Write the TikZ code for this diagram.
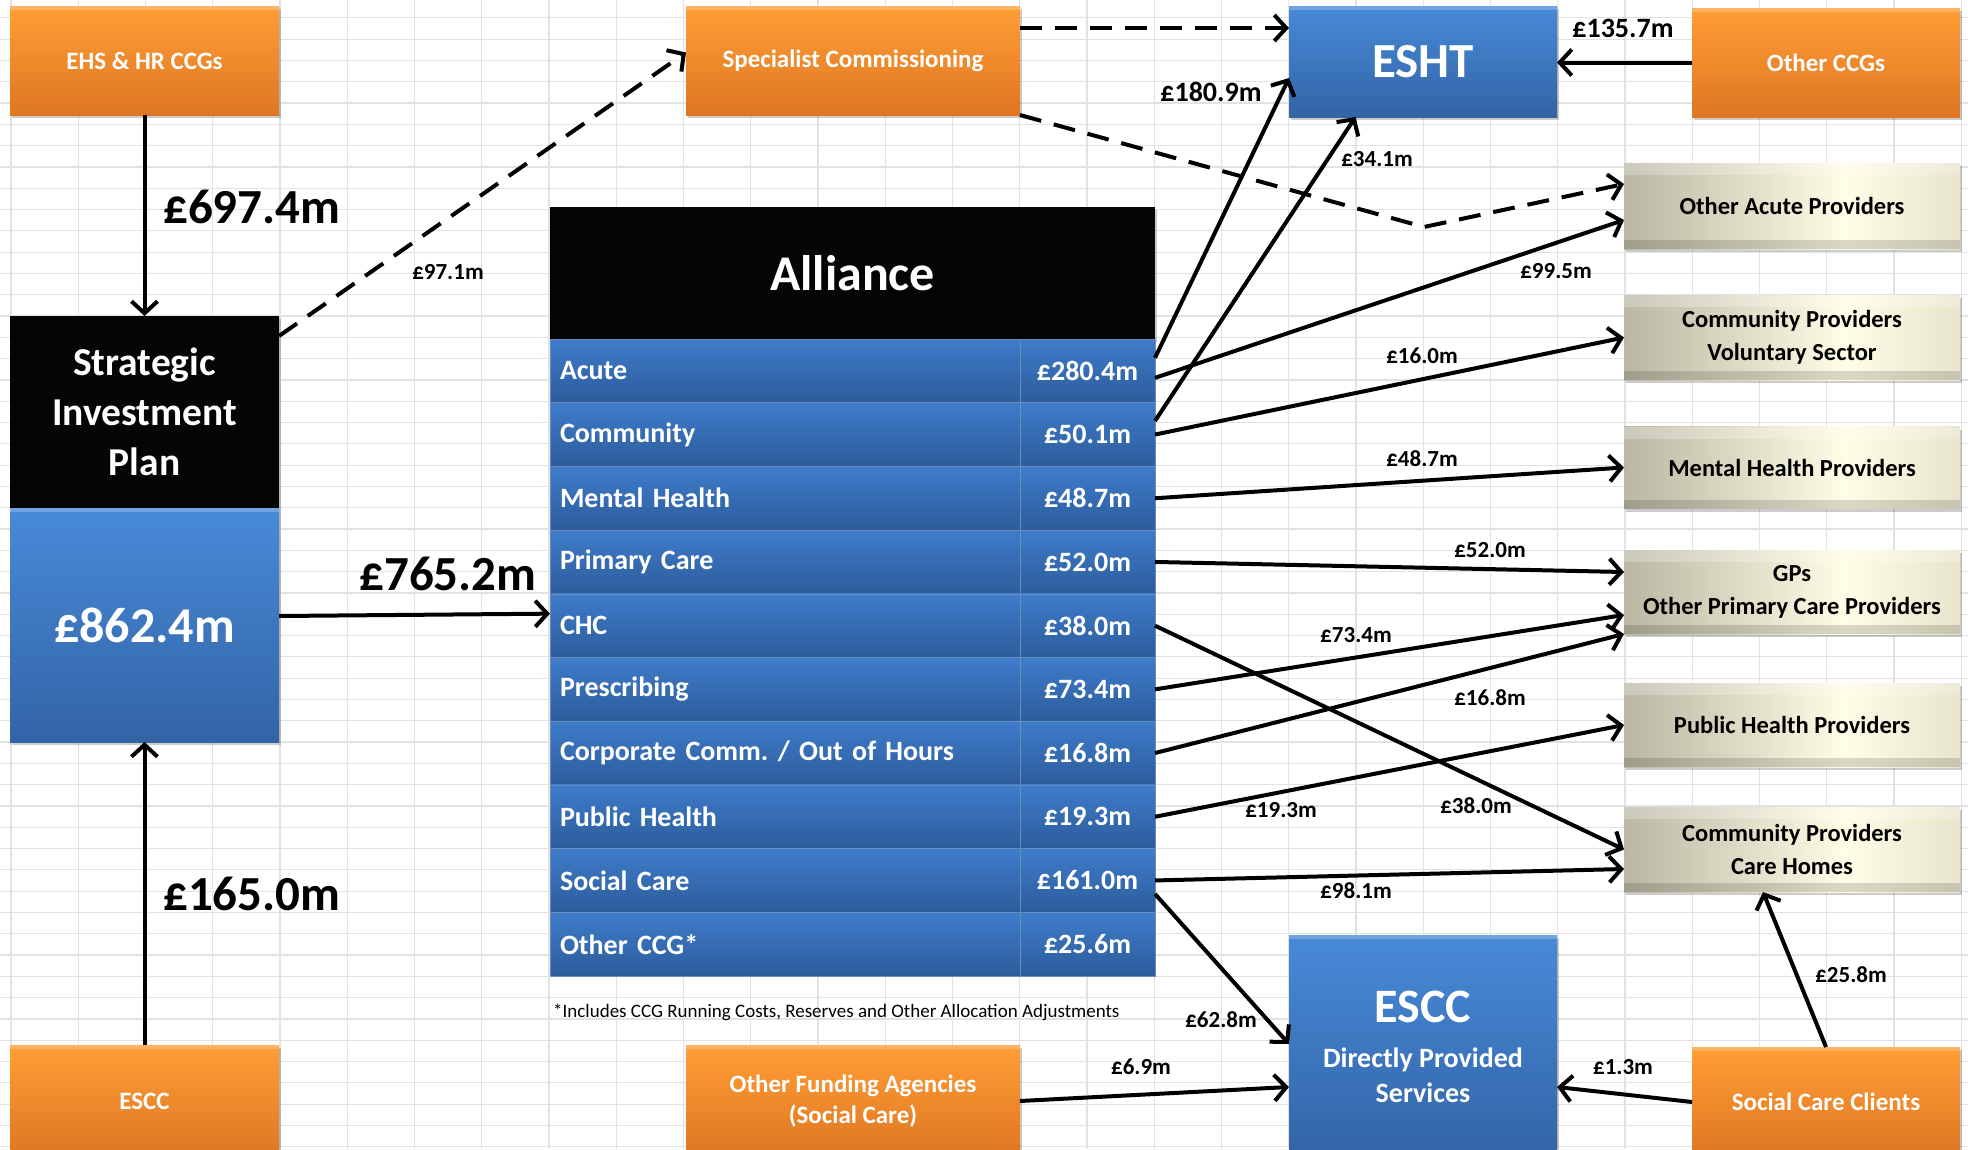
\documentclass[tikz,border=0pt]{standalone}
\usepackage{fontspec}
\setmainfont{Carlito}
\usetikzlibrary{arrows.meta,calc}
\frenchspacing

\definecolor{gridc}{RGB}{226,226,226}
\definecolor{orTop}{RGB}{255,158,54}
\definecolor{orBot}{RGB}{222,118,34}
\definecolor{blTop}{RGB}{72,138,216}
\definecolor{blBot}{RGB}{50,100,166}
\definecolor{rowTop}{RGB}{62,124,202}
\definecolor{rowBot}{RGB}{45,92,155}
\definecolor{blk}{RGB}{5,5,5}
\definecolor{stA}{RGB}{136,134,116}
\definecolor{stB}{RGB}{192,189,168}
\definecolor{stC}{RGB}{255,253,230}
\definecolor{stD}{RGB}{230,227,202}
\definecolor{stE}{RGB}{154,151,132}

% bevelled stone-coloured provider boxes
\pgfdeclarehorizontalshading{stonefill}{100bp}{%
  color(0bp)=(stA); color(28bp)=(stB); color(58bp)=(stC); color(76bp)=(stD); color(100bp)=(stE)}

\tikzset{
  shade/.style={preaction={fill=black, opacity=0.2, transform canvas={shift={(2pt,-3pt)}}}},
  topglow/.style={path picture={
      \fill[white, opacity=0.22] (path picture bounding box.north west) rectangle
        ([yshift=-#1]path picture bounding box.north east);}},
  box/.style={rectangle, inner sep=0pt, outer sep=0pt, align=center, text=white, shade},
  orangebox/.style={box, top color=orTop, bottom color=orBot, topglow=4pt,
    font=\bfseries\fontsize{25}{31}\selectfont},
  bluebox/.style={box, top color=blTop, bottom color=blBot, topglow=4pt},
  blackbox/.style={box, fill=blk},
  stonebox/.style={box, shading=stonefill, text=black,
    path picture={
      \fill[white, opacity=0.25] (path picture bounding box.north west) rectangle
        ([yshift=-12pt]path picture bounding box.north east);
      \fill[black, opacity=0.14] ([yshift=9pt]path picture bounding box.south west) rectangle
        (path picture bounding box.south east);},
    font=\bfseries\fontsize{24.5}{32.6}\selectfont},
  cell/.style={rectangle, inner sep=0pt, outer sep=0pt, text=white,
    top color=rowTop, bottom color=rowBot, minimum height=63.7pt,
    draw=rowBot!70!white, line width=0.6pt,
    font=\bfseries\fontsize{28}{34}\selectfont},
  labcell/.style={cell, minimum width=470pt, text width=450pt, align=left, inner xsep=10pt},
  valcell/.style={cell, minimum width=135pt, align=center},
  flow/.style={line width=4pt, -{Straight Barb[length=12pt,width=26pt,line width=4pt]}},
  dflow/.style={flow, dash pattern=on 22pt off 13pt},
  lbl/.style={font=\bfseries\fontsize{23}{26}\selectfont, inner sep=0pt},
  midlbl/.style={font=\bfseries\fontsize{28}{30}\selectfont, inner sep=0pt},
  biglbl/.style={font=\bfseries\fontsize{49}{55}\selectfont, inner sep=0pt},
  gridline/.style={draw=gridc, line width=1.2pt},
}

\begin{document}
\begin{tikzpicture}[x=1pt, y=-1pt]
\useasboundingbox (0,0) rectangle (1968,1149);
\fill[white] (0,0) rectangle (1968,1149);

% spreadsheet grid
\foreach \i in {0,...,29} \draw[gridline] ({11+67.25*\i},0) -- ({11+67.25*\i},1149);
\foreach \j in {-15,...,39} \draw[gridline] (0,{316+21.3*\j}) -- (1968,{316+21.3*\j});

% funding sources
\node[orangebox, minimum width=269pt, minimum height=109pt] (ehs) at (144.5,60.5) {EHS \& HR CCGs};
\node[orangebox, minimum width=334pt, minimum height=109pt] (spec) at (853,60.5) {Specialist Commissioning};
\node[orangebox, minimum width=268pt, minimum height=109pt] (occg) at (1826,62.5) {Other CCGs};
\node[orangebox, minimum width=269pt, minimum height=112pt] (esccL) at (144.5,1101) {ESCC};
\node[orangebox, minimum width=334pt, minimum height=112pt] (ofa) at (853,1101) {Other Funding Agencies\\(Social Care)};
\node[orangebox, minimum width=268pt, minimum height=110pt] (scc) at (1826,1102) {Social Care Clients};

% trusts
\node[bluebox, minimum width=268pt, minimum height=111pt, font=\bfseries\fontsize{49}{55}\selectfont] (esht) at (1423,61.5) {ESHT};
\node[bluebox, minimum width=268pt, minimum height=225pt] (esccB) at (1423,1047.5) {};
\node[text=white, inner sep=0pt, font=\bfseries\fontsize{48}{52}\selectfont] (esccName) at (1423,1007) {ESCC};
\node[text=white, inner sep=0pt, align=center, font=\bfseries\fontsize{28}{35}\selectfont] (esccSub) at (1423,1075) {Directly Provided\\Services};

% strategic investment plan
\node[blackbox, minimum width=269pt, minimum height=192pt, font=\bfseries\fontsize{39.5}{50}\selectfont] (sipTop) at (144.5,412) {Strategic\\Investment\\Plan};
\node[bluebox, minimum width=269pt, minimum height=234pt, font=\bfseries\fontsize{50}{55}\selectfont] (sipBot) at (144.5,625) {£862.4m};

% alliance table
\node[blackbox, minimum width=605pt, minimum height=132pt, font=\bfseries\fontsize{50}{55}\selectfont] (alliance) at (852.5,273) {Alliance};
\foreach \nm/\lab/\val [count=\k from 0] in {
  acute/{Acute}/£280.4m,
  comm/{Community}/£50.1m,
  mh/{Mental Health}/£48.7m,
  pc/{Primary Care}/£52.0m,
  chc/{CHC}/£38.0m,
  pres/{Prescribing}/£73.4m,
  corp/{Corporate Comm. / Out of Hours}/£16.8m,
  ph/{Public Health}/£19.3m,
  sc/{Social Care}/£161.0m,
  occ/{Other CCG*}/£25.6m} {
  \node[labcell] (\nm L) at (785,{339+63.7*(\k+0.5)}) {\lab};
  \node[valcell] (\nm V) at (1087.5,{339+63.7*(\k+0.5)}) {\val};
}
\node[anchor=west, inner sep=0pt, font=\fontsize{19}{22}\selectfont] (note) at (553,1012)
  {*Includes CCG Running Costs, Reserves and Other Allocation Adjustments};

% providers
\node[stonebox, minimum width=336pt, minimum height=86pt] (oacute) at (1792,206) {Other Acute Providers};
\node[stonebox, minimum width=336pt, minimum height=85pt] (vol) at (1792,337.5) {Community Providers\\Voluntary Sector};
\node[stonebox, minimum width=336pt, minimum height=82pt] (mhp) at (1792,467.5) {Mental Health Providers};
\node[stonebox, minimum width=336pt, minimum height=84pt] (gps) at (1792,592) {GPs\\Other Primary Care Providers};
\node[stonebox, minimum width=336pt, minimum height=84pt] (php) at (1792,725) {Public Health Providers};
\node[stonebox, minimum width=336pt, minimum height=85pt] (care) at (1792,849.5) {Community Providers\\Care Homes};

% flows into the plan and the alliance
\draw[flow] (ehs.south) -- (sipTop.north);
\draw[flow] (esccL.north) -- (sipBot.south);
\draw[flow] ([yshift=9pt]sipBot.east) -- ([yshift=12pt]chcL.west);
\node[biglbl, anchor=west] (l697) at (163,207) {£697.4m};
\node[biglbl, anchor=west] (l165) at (163,894) {£165.0m};
\node[biglbl] (l765) at (448,574) {£765.2m};

% specialist commissioning
\coordinate (bend) at (1424,227);
\draw[dflow] ([yshift=-20pt]sipTop.north east) -- ([yshift=8pt]spec.west);
\draw[dflow] ([yshift=32.5pt]spec.east) -- ([yshift=33.5pt]esht.west);
\draw[dflow] (spec.south east) -- (bend) -- ([yshift=22pt]oacute.west);
\node[lbl] (l97) at (448,272) {£97.1m};

% ESHT
\draw[flow] (occg.west) -- (occg.west -| esht.east);
\draw[flow] ([yshift=13pt]acuteV.east) -- ([yshift=-16.5pt]esht.west);
\draw[flow] ([yshift=13.6pt]commV.east) -- ([xshift=-67.5pt]esht.south);
\node[midlbl] (l1357) at (1623,28) {£135.7m};
\node[midlbl] (l1809) at (1211,92) {£180.9m};
\node[lbl] (l341) at (1377,159) {£34.1m};

% providers
\draw[flow] ([yshift=-7pt]acuteV.east) -- ([yshift=-14pt]oacute.west);
\draw[flow] (commV.east) -- (vol.west);
\draw[flow] (mhV.east) -- (mhp.west);
\draw[flow] (pcV.east) -- ([yshift=20pt]gps.west);
\draw[flow] (chcV.east) -- (care.west);
\draw[flow] (presV.east) -- ([yshift=-23pt]gps.west);
\draw[flow] (corpV.east) -- (gps.south west);
\draw[flow] (phV.east) -- (php.west);
\draw[flow] (scV.east) -- ([yshift=-19.5pt]care.west);
\node[lbl] (l995) at (1556,271) {£99.5m};
\node[lbl] (l160) at (1422,356) {£16.0m};
\node[lbl] (l487) at (1422,459) {£48.7m};
\node[lbl] (l520) at (1490,550) {£52.0m};
\node[lbl] (l734) at (1356,635) {£73.4m};
\node[lbl] (l168) at (1490,698) {£16.8m};
\node[lbl] (l380) at (1476,806) {£38.0m};
\node[lbl] (l193) at (1281,810) {£19.3m};
\node[lbl] (l981) at (1356,891) {£98.1m};

% ESCC directly provided services
\draw[flow] ([yshift=-13.5pt]scV.east) -- ([yshift=3.5pt]esccB.west);
\draw[flow] (ofa.east) -- ([yshift=-39.5pt]esccB.west);
\draw[flow] (scc.west) -- ([yshift=-39.5pt]esccB.east);
\draw[flow] (scc.north) -- ([xshift=-29pt]care.south);
\node[lbl] (l628) at (1221,1020) {£62.8m};
\node[lbl] (l69) at (1141,1067) {£6.9m};
\node[lbl] (l13) at (1623,1067) {£1.3m};
\node[lbl] (l258) at (1851,975) {£25.8m};
\end{tikzpicture}
\end{document}
